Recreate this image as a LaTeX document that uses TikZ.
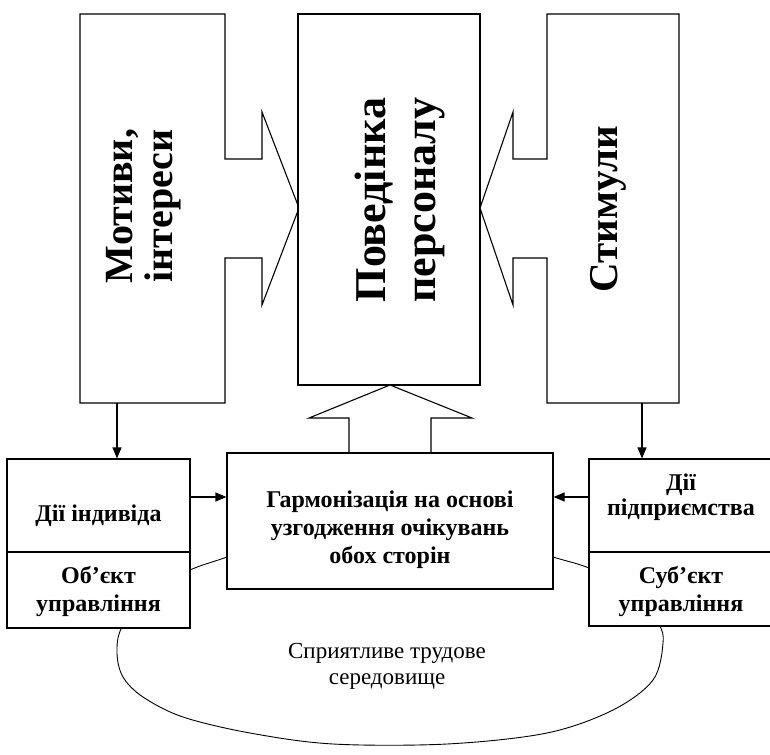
\documentclass[tikz,border=0pt]{standalone}
\usepackage{fontspec}
\setmainfont{Liberation Serif}
\usetikzlibrary{arrows.meta}
\begin{document}
\begin{tikzpicture}[x=1pt,y=-1pt,
    outline/.style={line width=1.1pt, fill=white},
    box/.style={draw, fill=white, line width=1.1pt, inner sep=0pt},
    txt/.style={align=center, inner sep=0pt, font=\bfseries\fontsize{24}{28}\selectfont},
    big/.style={rotate=90, align=center, inner sep=0pt},
    arr/.style={line width=1.1pt, -{Triangle[length=11pt,width=9pt]}}]
    \useasboundingbox (0,0) rectangle (770,754);
    \clip (0,0) rectangle (770,754);

    % Environment
    \draw[line width=0.9pt] plot[smooth cycle, tension=0.55] coordinates {
        (300,531) (227,557) (190,570) (150,592) (122,627) (117,653) (123,677)
        (143,697) (183,717) (250,733) (333,744) (447,744) (547,733) (613,710)
        (653,680) (663,643) (658,623) (630,588) (589,568) (553,557) (480,535)};

    % Motives
    \draw[outline] (80,14) -- (225,14) -- (225,159) -- (262,159) -- (262,112)
        -- (299,208) -- (262,305) -- (262,258) -- (225,258) -- (225,403)
        -- (80,403) -- cycle;
    % Behaviour
    \draw[outline] (298,14) rectangle (480,385);
    % Stimuli
    \draw[outline] (679,14) -- (547,14) -- (547,159) -- (513,159) -- (513,112)
        -- (480,208) -- (513,305) -- (513,258) -- (547,258) -- (547,403)
        -- (679,403) -- cycle;
    % Up arrow
    \draw[outline] (349,453) -- (349,418) -- (309,418) -- (390,385) -- (472,418)
        -- (431,418) -- (431,453);

    \node[big, font=\bfseries\fontsize{40}{40}\selectfont] (mot) at (144,206) {Мотиви,\\інтереси};
    \node[big, font=\bfseries\fontsize{44}{50}\selectfont] (pov) at (400,200) {Поведінка\\персоналу};
    \node[big, font=\bfseries\fontsize{41}{48}\selectfont] (stim) at (608,209) {Стимули};

    % Lower boxes
    \node[box, minimum width=183pt, minimum height=93pt] (act) at (98.5,505.5) {};
    \node[box, minimum width=183pt, minimum height=76pt] (obj) at (98.5,590) {};
    \node[box, minimum width=326pt, minimum height=136pt] (harm) at (390,521) {};
    \node[box, minimum width=184pt, minimum height=93pt] (ent) at (681,505.5) {};
    \node[box, minimum width=184pt, minimum height=74pt] (subj) at (681,589) {};

    \node[txt] (actT) at ([yshift=-10pt]act.center) {Дії індивіда};
    \node[txt] (objT) at ([yshift=-1pt]obj.center) {Об’єкт\\управління};
    \node[txt] (harmT) at ([yshift=-9pt]harm.center) {Гармонізація на основі\\узгодження очікувань\\обох сторін};
    \node[txt, font=\bfseries\fontsize{24}{25}\selectfont] (entT) at ([yshift=8pt]ent.center) {Дії\\підприємства};
    \node[txt] (subjT) at ([yshift=-2pt]subj.center) {Суб’єкт\\управління};

    \node[align=center, font=\fontsize{23}{26}\selectfont] (env) at (387,666)
        {Сприятливе трудове\\середовище};

    % Connectors
    \coordinate (motb) at (117,403);
    \coordinate (stimb) at (642,403);
    \draw[arr] (motb) -- (motb |- act.north);
    \draw[arr] (stimb) -- (stimb |- ent.north);
    \draw[arr] ([yshift=8.5pt]act.east) -- ([yshift=8.5pt]act.east -| harm.west);
    \draw[arr] ([yshift=8.5pt]ent.west) -- ([yshift=8.5pt]ent.west -| harm.east);
\end{tikzpicture}
\end{document}
